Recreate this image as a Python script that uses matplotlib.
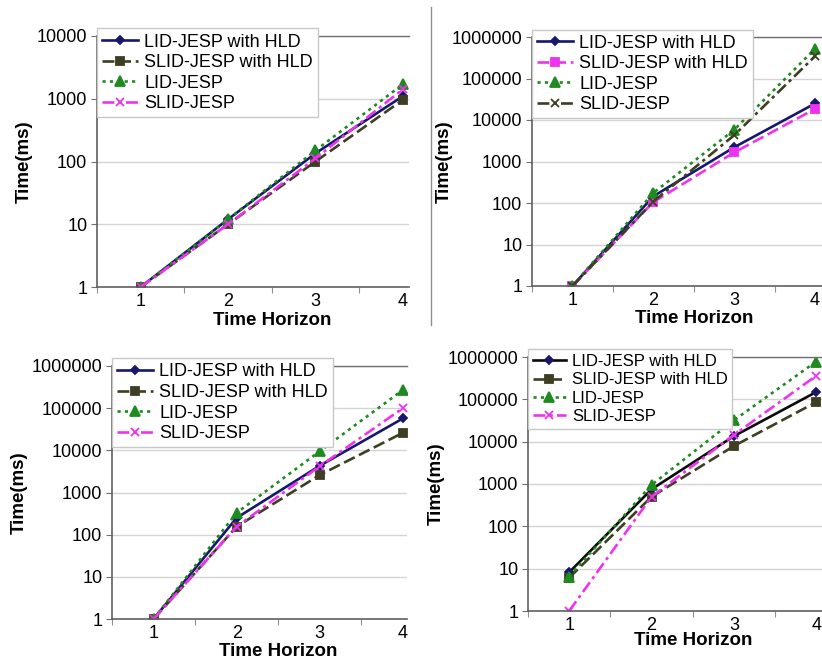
import matplotlib
matplotlib.use("Agg")
import matplotlib.pyplot as plt
from matplotlib.lines import Line2D
from matplotlib.ticker import FixedLocator, NullFormatter

plt.rcParams['font.family'] = ['Liberation Sans', 'DejaVu Sans']

horizons = [1, 2, 3, 4]
series_names = ["LID-JESP with HLD", "SLID-JESP with HLD", "LID-JESP", "SLID-JESP"]

# run times (ms) per panel, one list per algorithm
p1_lid_hld = [1, 12, 135, 1100]
p1_slid_hld = [1, 10, 100, 960]
p1_lid = [1, 12, 150, 1700]
p1_slid = [1, 10, 112, 1420]

p2_lid_hld = [1, 145, 2200, 25000]
p2_slid_hld = [1, 105, 1650, 18500]
p2_lid = [1, 175, 5800, 520000]
p2_slid = [1, 108, 4300, 345000]

p3_lid_hld = [1, 250, 4300, 57000]
p3_slid_hld = [1, 155, 2600, 26000]
p3_lid = [1, 330, 9500, 270000]
p3_slid = [1, 155, 4200, 100000]

p4_lid_hld = [8.2, 750, 13500, 149000]
p4_slid_hld = [6.1, 500, 7900, 86000]
p4_lid = [6.5, 950, 32000, 780000]
p4_slid = [1, 500, 14400, 360000]

NAVY = "#17176e"
OLIVE = "#3e3e22"
GREEN = "#1f8a1f"
MAGENTA = "#ee33ee"
BLACK = "#0a0a0a"

SOLID = dict(linestyle="-")
DASHED = dict(linestyle=(0, (4.5, 1.8)))
DOTTED = dict(linestyle=(0, (1.2, 1.6)))
DASHDOT = dict(linestyle=(0, (4.5, 1.6, 1.2, 1.6)))

fig = plt.figure(figsize=(8.22, 6.64), dpi=100)


def px_axes(left, top, right, bottom):
    W, H = 822.0, 664.0
    return fig.add_axes([left / W, 1 - bottom / H, (right - left) / W, (bottom - top) / H])


def draw_panel(ax, data, styles, ytop, xmax, xlab_y, ylab_x, leg_size=13):
    for vals, name, st in zip(data, series_names, styles):
        ax.plot(horizons, vals, label=name, color=st["color"], lw=1.9,
                marker=st["marker"], ms=st["ms"], mfc=st.get("mfc", st["color"]),
                mec=st.get("mec", st["color"]), mew=1.3,
                **st["ls"])
    ax.set_yscale("log")
    ax.set_ylim(1, ytop)
    ax.set_xlim(0.5, xmax)
    decades = [10 ** k for k in range(0, len(str(ytop)))]
    ax.yaxis.set_major_locator(FixedLocator(decades))
    ax.yaxis.set_minor_locator(FixedLocator([]))
    ax.set_yticklabels([str(d) for d in decades])
    ax.set_xticks(horizons)
    ax.set_xticklabels([str(h) for h in horizons])
    ax.xaxis.set_minor_locator(FixedLocator([0.5, 1.5, 2.5, 3.5]))
    ax.xaxis.set_minor_formatter(NullFormatter())
    ax.tick_params(axis="x", which="major", length=0, labelsize=13, pad=4)
    ax.tick_params(axis="x", which="minor", length=4, color="#909090", width=0.8)
    ax.tick_params(axis="y", length=4, color="#707070", width=0.8, labelsize=13, pad=3)
    ax.grid(axis="y", which="major", color="#d4d4d4", lw=1.0)
    ax.set_axisbelow(True)
    for side in ("left", "bottom"):
        ax.spines[side].set_color("#606060")
        ax.spines[side].set_linewidth(1.2)
    ax.spines["top"].set_color("#707070")
    ax.spines["top"].set_linewidth(1.0)
    ax.spines["right"].set_visible(False)
    ax.set_xlabel("Time Horizon", fontsize=13.5, fontweight="bold")
    ax.xaxis.set_label_coords((2.5 - 0.5) / (xmax - 0.5), xlab_y)
    ax.set_ylabel("Time(ms)", fontsize=13.5, fontweight="bold")
    ax.yaxis.set_label_coords(ylab_x, 0.5)
    leg = ax.legend(loc="upper left", bbox_to_anchor=(0.0, 1.03), borderaxespad=0,
                    fontsize=leg_size, frameon=True, fancybox=False, framealpha=1,
                    edgecolor="#c8c8c8", handlelength=2.0, handletextpad=0.35,
                    labelspacing=0.2, borderpad=0.28)
    leg.get_frame().set_linewidth(1.0)
    leg.set_zorder(5)


def style(color, ls, marker, ms):
    return dict(color=color, ls=ls, marker=marker, ms=ms)


# top left
ax1 = px_axes(97, 36, 409, 287)
draw_panel(ax1, [p1_lid_hld, p1_slid_hld, p1_lid, p1_slid],
           [style(NAVY, SOLID, "D", 4), style(OLIVE, DASHED, "s", 6),
            style(GREEN, DOTTED, "^", 7), style(MAGENTA, DASHDOT, "x", 6)],
           10000, 4.07, -0.10, -0.205)

# top right
ax2 = px_axes(532, 37, 822, 286)
draw_panel(ax2, [p2_lid_hld, p2_slid_hld, p2_lid, p2_slid],
           [style(NAVY, SOLID, "D", 4), style(MAGENTA, DASHED, "s", 6),
            style(GREEN, DOTTED, "^", 7), style(OLIVE, DASHDOT, "x", 6)],
           1000000, 4.086, -0.096, -0.272)

# bottom left
ax3 = px_axes(112, 366, 407, 619)
draw_panel(ax3, [p3_lid_hld, p3_slid_hld, p3_lid, p3_slid],
           [style(NAVY, SOLID, "D", 4), style(OLIVE, DASHED, "s", 6),
            style(GREEN, DOTTED, "^", 7), style(MAGENTA, DASHDOT, "x", 6)],
           1000000, 4.05, -0.095, -0.285)

# bottom right
ax4 = px_axes(528, 357, 822, 611)
draw_panel(ax4, [p4_lid_hld, p4_slid_hld, p4_lid, p4_slid],
           [dict(color=BLACK, ls=SOLID, marker="D", ms=4, mfc=NAVY, mec=NAVY),
            style(OLIVE, DASHED, "s", 6),
            style(GREEN, DOTTED, "^", 7), style(MAGENTA, DASHDOT, "x", 6)],
           1000000, 4.07, -0.083, -0.282, leg_size=12)

# thin divider between the two upper charts
fig.add_artist(Line2D([431 / 822, 431 / 822], [1 - 7 / 664, 1 - 325 / 664],
                      color="#909090", lw=1.0))

fig.savefig("out.png", dpi=100)
